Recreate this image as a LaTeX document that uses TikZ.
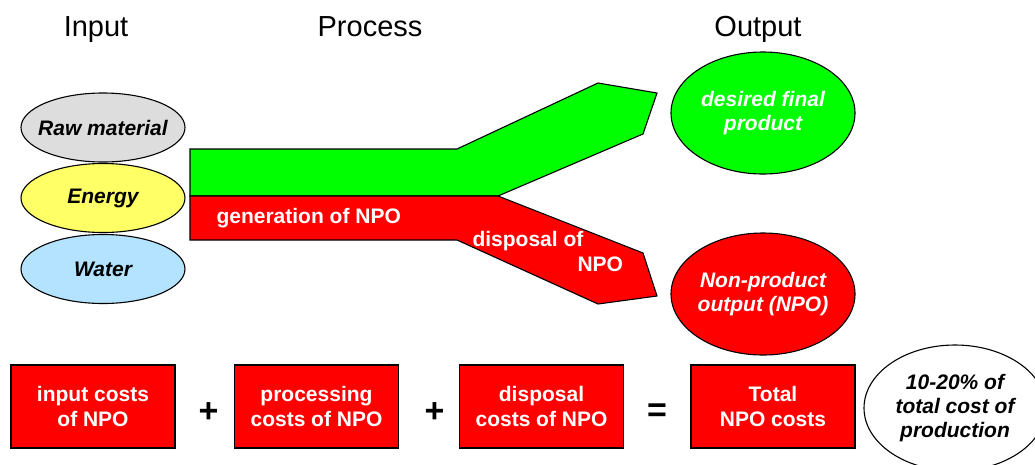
\documentclass[tikz,border=0pt]{standalone}
\usepackage{fontspec}
\setmainfont{Liberation Sans}
\usepackage{tikz}
\usetikzlibrary{shapes.geometric,positioning}
\definecolor{grau}{HTML}{DDDDDD}
\definecolor{gelb}{HTML}{FFFF66}
\definecolor{hellblau}{HTML}{B3E3FF}
\definecolor{gruen}{HTML}{00FF00}
\definecolor{rot}{HTML}{FF0000}

\begin{document}
\begin{tikzpicture}[x=1pt,y=-1pt,line width=1.1pt,
  titel/.style={anchor=base,inner sep=0pt,font=\fontsize{29}{32}\selectfont},
  eingang/.style={ellipse,draw=black,minimum width=164pt,minimum height=69pt,inner xsep=-12pt,inner ysep=0pt,font=\fontsize{21}{25}\selectfont\bfseries\itshape},
  ausgang/.style={ellipse,draw=black,minimum width=184pt,minimum height=122pt,inner xsep=-8pt,inner ysep=0pt,align=center,font=\fontsize{21}{24}\selectfont\bfseries\itshape},
  kosten/.style={rectangle,draw=black,fill=rot,minimum width=164pt,minimum height=83pt,inner sep=0pt,align=center,text=white,font=\fontsize{21}{25}\selectfont\bfseries},
  zeichen/.style={inner sep=0pt,font=\fontsize{34}{34}\selectfont\bfseries},
  weiss/.style={inner sep=0pt,text=white,font=\fontsize{21}{25}\selectfont\bfseries}]
\useasboundingbox (0,0) rectangle (1035,464);
%Ueberschriften
\node[titel] (tinput) at (96,36) {Input};
\node[titel] (tprocess) at (370,36) {Process};
\node[titel] (toutput) at (758,36) {Output};
%Eingaenge
\foreach \name/\txt/\farbe/\y in {raw/Raw material/grau/127.5,energy/Energy/gelb/198,water/Water/hellblau/269}{
\node[eingang,fill=\farbe] (\name) at (103,\y) {\txt};
}
%Prozess: gruener und roter Strom
\draw[black,fill=gruen] (190,149) -- (457,149) -- (598,83) -- (657,93) -- (643,134) -- (498,196) -- (190,196) -- cycle;
\draw[black,fill=rot] (190,196) -- (498,196) -- (643,253) -- (657,296) -- (598,304) -- (457,240) -- (190,240) -- cycle;
\node[weiss,anchor=base west] (generation) at (216,223) {generation of NPO};
\node[weiss,anchor=north west,align=left] (disposal) at (472,231) {disposal of\\\hspace*{105pt}NPO};
%Ausgaenge
\node[ausgang,fill=gruen,text=white] (desired) at (763,113) {desired final\\product};
\node[ausgang,fill=rot,text=white] (npo) at (763,294) {Non-product\\output (NPO)};
%Kosten
\foreach \name/\txt/\x in {inputcost/{input costs\\of NPO}/93,proccost/{processing\\costs of NPO}/316.5,dispcost/{disposal\\costs of NPO}/541.5,totalcost/{Total\\NPO costs}/773}{
\node[kosten] (\name) at (\x,406.5) {\txt};
}
\foreach \z/\x [count=\i] in {+/208.5,+/434.5,=/657}{
\node[zeichen] (sign\i) at (\x,413) {\z};
}
\node[ausgang,fill=white,minimum width=182pt,minimum height=126pt] (share) at (955,408) {10-20\% of\\total cost of\\production};
\end{tikzpicture}
\end{document}
